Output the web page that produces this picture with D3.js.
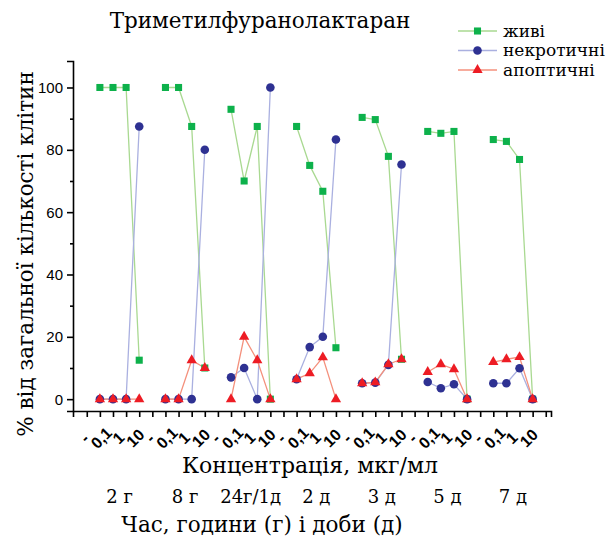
<!DOCTYPE html>
<html>
<head>
<meta charset="utf-8">
<script src="https://cdn.jsdelivr.net/npm/d3@7"></script>
<style>
  body { margin: 0; background: #fff; }
  svg { display: block; }
</style>
</head>
<body>
<div id="chart"></div>
<script>
const GROUPS = ["2 г", "8 г", "24г/1д", "2 д", "3 д", "5 д", "7 д"];
const CONCENTRATIONS = ["-", "0,1", "1", "10"];
// values per group, 4 concentrations each
const ALIVE = [100, 100, 100, 12.5, 100, 100, 87.5, 10, 93, 70, 87.5, 0, 87.5, 75, 66.7, 16.5, 90.4, 89.7, 77.9, 12.8, 85.9, 85.3, 85.9, 0, 83.3, 82.7, 76.9, 0];
const NECROTIC = [0, 0, 0, 87.5, 0, 0, 0, 80, 7, 10, 0, 100, 6.4, 16.7, 20, 83.3, 5.1, 5.3, 11, 75.3, 5.5, 3.5, 4.8, 0, 5.1, 5.1, 9.9, 0];
const APOPTOTIC = [0, 0, 0, 0, 0, 0, 12.5, 10, 0, 20, 12.5, 0, 6.4, 8.3, 13.4, 0, 5.1, 5.4, 11.2, 12.8, 8.7, 11.2, 9.6, 0, 11.9, 12.8, 13.5, 0];
const Y_TICKS = [0, 20, 40, 60, 80, 100];

const WIDTH = 606;
const HEIGHT = 539;
const SERIF = "'DejaVu Serif', 'Liberation Serif', serif";
const SANS = "'Liberation Sans', Arial, sans-serif";

const SERIES = [
   { name: "живі", values: ALIVE, line: "#a9d991", fill: "#0db14b", shape: d3.symbolSquare, size: 50 },
   { name: "некротичні", values: NECROTIC, line: "#aab0e0", fill: "#2e3192", shape: d3.symbolCircle, size: 58 },
   { name: "апоптичні", values: APOPTOTIC, line: "#f4907c", fill: "#ed1c24", shape: d3.symbolTriangle, size: 46 }
];

const svg = d3.select("#chart").append("svg")
   .attr("width", WIDTH)
   .attr("height", HEIGHT)
   .style("background", "#fff");

// slot 0 empty, then 4 points + 1 empty slot per group
const pos = (g, i) => 5 * g + 1 + i;
const x = d3.scaleLinear().domain([-1.05, 35.4]).range([73, 551]);
const y = d3.scaleLinear().domain([-3.8, 108.5]).range([411, 61]);

// axes
svg.append("g")
   .attr("transform", `translate(0,${y.range()[0]})`)
   .call(d3.axisBottom(x).tickValues(d3.range(0, 36)).tickSize(6).tickFormat(""));
svg.append("g")
   .attr("transform", `translate(${x.range()[0]},0)`)
   .call(d3.axisLeft(y).tickValues(Y_TICKS).tickSize(6).tickFormat(""));
svg.append("g")
   .attr("transform", `translate(${x.range()[0]},0)`)
   .call(d3.axisLeft(y).tickValues(d3.range(10, 100, 20)).tickSize(3).tickFormat(""))
   .select(".domain").remove();
svg.selectAll(".domain").attr("stroke", "#000").attr("stroke-width", 1.6);
svg.selectAll(".tick line").attr("stroke", "#000").attr("stroke-width", 1.6);

svg.append("g").selectAll("text")
   .data(Y_TICKS)
   .join("text")
   .attr("x", x.range()[0] - 10)
   .attr("y", d => y(d))
   .attr("dy", "0.36em")
   .attr("text-anchor", "end")
   .attr("font-family", SANS)
   .attr("font-size", 15)
   .attr("fill", "#000")
   .text(d => d);

// rotated concentration labels under each group
const labelData = [];
GROUPS.forEach((g, gi) => CONCENTRATIONS.forEach((c, i) => labelData.push({ gi, i, c })));
svg.append("g").selectAll("text")
   .data(labelData)
   .join("text")
   .attr("transform", d => `translate(${x(pos(d.gi, d.i)) - 15.5 + 3.9 * d.i},438) rotate(-45)`)
   .attr("text-anchor", "middle")
   .attr("dominant-baseline", "central")
   .attr("font-family", SANS)
   .attr("font-size", 16)
   .attr("font-weight", "bold")
   .text(d => d.c);

// series: lines per group, then markers
const line = d3.line().x(d => x(d.p)).y(d => y(d.v));
const points = s => s.values.map((v, k) => ({ p: pos(Math.floor(k / 4), k % 4), v, g: Math.floor(k / 4) }));

SERIES.forEach(s => {
   svg.append("g").selectAll("path")
      .data(d3.groups(points(s), d => d.g).map(d => d[1]))
      .join("path")
      .attr("d", line)
      .attr("fill", "none")
      .attr("stroke", s.line)
      .attr("stroke-width", 1.3);
});
SERIES.forEach(s => {
   svg.append("g").selectAll("path")
      .data(points(s))
      .join("path")
      .attr("transform", d => `translate(${x(d.p)},${y(d.v)})`)
      .attr("d", d3.symbol().type(s.shape).size(s.size))
      .attr("fill", s.fill);
});

// legend
const legend = svg.append("g").attr("transform", "translate(458,31)");
const item = legend.selectAll("g")
   .data(SERIES)
   .join("g")
   .attr("transform", (d, i) => `translate(0,${i * 19.5})`);
item.append("line")
   .attr("x1", 0).attr("x2", 39)
   .attr("stroke", d => d.line)
   .attr("stroke-width", 1.3);
item.append("path")
   .attr("transform", "translate(19.5,0)")
   .attr("d", d => d3.symbol().type(d.shape).size(d.size)())
   .attr("fill", d => d.fill);
item.append("text")
   .attr("x", 45)
   .attr("dy", "0.35em")
   .attr("font-family", SERIF)
   .attr("font-size", 17)
   .text(d => d.name);

// titles
svg.append("text")
   .attr("x", 260).attr("y", 28)
   .attr("text-anchor", "middle")
   .attr("font-family", SERIF).attr("font-size", 21.5)
   .text("Триметилфуранолактаран");
svg.append("text")
   .attr("transform", "translate(33,254) rotate(-90)")
   .attr("text-anchor", "middle")
   .attr("font-family", SERIF).attr("font-size", 21.5)
   .text("% від загальної кількості клітин");
svg.append("text")
   .attr("x", 310).attr("y", 473)
   .attr("text-anchor", "middle")
   .attr("font-family", SERIF).attr("font-size", 22)
   .text("Концентрація, мкг/мл");
svg.append("g").selectAll("text")
   .data(GROUPS)
   .join("text")
   .attr("x", (d, gi) => (x(pos(gi, 0)) + x(pos(gi, 3))) / 2)
   .attr("y", 503)
   .attr("text-anchor", "middle")
   .attr("font-family", SERIF).attr("font-size", 18)
   .text(d => d);
svg.append("text")
   .attr("x", 262).attr("y", 532)
   .attr("text-anchor", "middle")
   .attr("font-family", SERIF).attr("font-size", 21.5)
   .text("Час, години (г) і доби (д)");
</script>
</body>
</html>
